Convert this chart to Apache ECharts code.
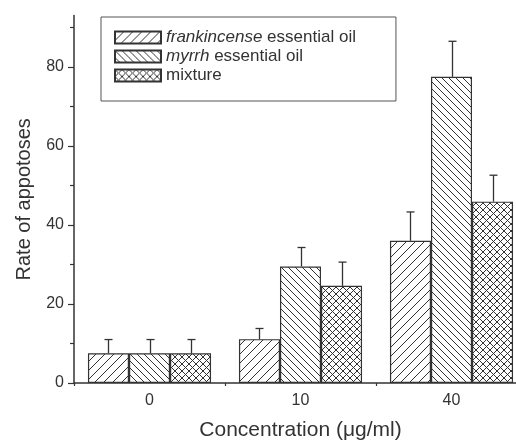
<!DOCTYPE html>
<html>
<head>
<meta charset="utf-8">
<script src="https://cdn.jsdelivr.net/npm/echarts@6/dist/echarts.min.js"></script>
<style>
html,body{margin:0;padding:0;background:#fff;}
#main{width:516px;height:440px;}
</style>
</head>
<body>
<div id="main"></div>
<script>
const categories = ['0', '10', '40'];
const seriesNames = ['frankincense essential oil', 'myrrh essential oil', 'mixture'];
const frankincense = [7.5, 11.1, 36.0];
const frankincenseErr = [3.5, 2.7, 7.3];
const myrrh = [7.5, 29.5, 77.5];
const myrrhErr = [3.5, 4.8, 9.0];
const mixture = [7.5, 24.6, 45.9];
const mixtureErr = [3.5, 6.0, 6.7];
const yMin = 0, yMax = 93, yInterval = 20;
const yMajorTicks = [0, 20, 40, 60, 80];
const yMinorTicks = [10, 30, 50, 70, 90];

const INK = '#333';
const GAP = 0.185;
const FONT = 'Liberation Sans, Arial, sans-serif';

function makePattern(kind, p) {
  const c = document.createElement('canvas');
  c.width = p; c.height = p;
  const g = c.getContext('2d');
  g.fillStyle = '#fff';
  g.fillRect(0, 0, p, p);
  g.strokeStyle = INK;
  g.lineWidth = 1;
  function fwd() {
    g.beginPath();
    g.moveTo(-1, p + 1); g.lineTo(p + 1, -1);
    g.moveTo(-1, 1); g.lineTo(1, -1);
    g.moveTo(p - 1, p + 1); g.lineTo(p + 1, p - 1);
    g.stroke();
  }
  function back() {
    g.beginPath();
    g.moveTo(-1, -1); g.lineTo(p + 1, p + 1);
    g.moveTo(p - 1, -1); g.lineTo(p + 1, 1);
    g.moveTo(-1, p - 1); g.lineTo(1, p + 1);
    g.stroke();
  }
  if (kind === 'fwd') fwd();
  else if (kind === 'back') back();
  else { fwd(); back(); }
  return { image: c, repeat: 'repeat' };
}

const patterns = [makePattern('fwd', 9), makePattern('back', 7), makePattern('cross', 7)];
const values = [frankincense, myrrh, mixture];
const errors = [frankincenseErr, myrrhErr, mixtureErr];

const series = [];
values.forEach((vals, k) => {
  series.push({
    name: seriesNames[k],
    type: 'bar',
    data: vals,
    barGap: '0%',
    barCategoryGap: (GAP * 100) + '%',
    itemStyle: { color: patterns[k], borderColor: INK, borderWidth: 1.2 },
    emphasis: { disabled: true },
    z: 2
  });
});
values.forEach((vals, k) => {
  series.push({
    type: 'custom',
    name: seriesNames[k] + ' err',
    data: vals.map((v, i) => [i, v, errors[k][i]]),
    z: 3,
    silent: true,
    renderItem: function (params, api) {
      const idx = api.value(0), v = api.value(1), e = api.value(2);
      const band = api.size([1, 0])[0];
      const barW = band * (1 - GAP) / 3;
      const base = api.coord([idx, v]);
      const top = api.coord([idx, v + e]);
      const x = Math.round(base[0] + (k - 1) * barW) + 0.5;
      const capHalf = 4;
      return {
        type: 'group',
        children: [
          { type: 'line', shape: { x1: x, y1: base[1], x2: x, y2: top[1] }, style: { stroke: INK, lineWidth: 1.3 } },
          { type: 'line', shape: { x1: x - capHalf, y1: top[1], x2: x + capHalf, y2: top[1] }, style: { stroke: INK, lineWidth: 1.3 } }
        ]
      };
    }
  });
});

const chart = echarts.init(document.getElementById('main'), null, { renderer: 'canvas' });
chart.setOption({
  animation: false,
  backgroundColor: '#fff',
  textStyle: { fontFamily: FONT },
  grid: { left: 74, width: 453, top: 15.6, height: 367.4, outerBoundsMode: 'none', containLabel: false },
  legend: {
    data: seriesNames,
    orient: 'vertical',
    left: 101,
    top: 17,
    icon: 'rect',
    itemWidth: 46,
    itemHeight: 12,
    itemGap: 2,
    padding: [12, 40, 17, 13],
    borderColor: '#555',
    borderWidth: 1,
    selectedMode: false,
    formatter: function (name) {
      const parts = name.split(' ');
      if (parts.length > 1) {
        return '{i|' + parts[0] + '} {n|' + parts.slice(1).join(' ') + '}';
      }
      return '{n|' + name + '}';
    },
    textStyle: {
      color: INK,
      fontSize: 17,
      lineHeight: 17,
      fontFamily: FONT,
      rich: {
        i: { fontStyle: 'italic', fontSize: 17, lineHeight: 17, color: INK, fontFamily: FONT },
        n: { fontSize: 17, lineHeight: 17, color: INK, fontFamily: FONT }
      }
    }
  },
  xAxis: [
    {
      type: 'category',
      data: categories,
      position: 'bottom',
      name: 'Concentration (μg/ml)',
      nameLocation: 'middle',
      nameGap: 37,
      nameTextStyle: { color: INK, fontSize: 21, fontFamily: FONT },
      axisLine: { lineStyle: { color: INK, width: 1.5 } },
      axisTick: { alignWithLabel: true, length: 5, lineStyle: { color: INK, width: 1.2 } },
      axisLabel: { color: INK, fontSize: 16, margin: 10, fontFamily: FONT },
      splitLine: { show: false }
    },
    {
      type: 'category',
      data: categories,
      position: 'bottom',
      axisLine: { show: false },
      axisTick: { show: true, length: 3, lineStyle: { color: INK, width: 1.2 } },
      axisLabel: { show: false },
      splitLine: { show: false }
    }
  ],
  yAxis: [
    {
      type: 'value',
      min: yMin,
      max: yMax,
      interval: yInterval,
      position: 'left',
      name: 'Rate of appotoses',
      nameLocation: 'middle',
      nameGap: 40,
      nameRotate: 90,
      nameTextStyle: { color: INK, fontSize: 20, fontFamily: FONT },
      axisLine: { show: true, lineStyle: { color: INK, width: 1.5 } },
      axisTick: { show: true, length: 6, customValues: yMajorTicks, lineStyle: { color: INK, width: 1.2 } },
      minorTick: { show: false },
      axisLabel: { color: INK, fontSize: 16, margin: 10, customValues: yMajorTicks, fontFamily: FONT },
      splitLine: { show: false }
    },
    {
      type: 'value',
      min: yMin,
      max: yMax,
      interval: 10,
      position: 'left',
      axisLine: { show: false },
      axisTick: { show: true, length: 4, customValues: yMinorTicks, lineStyle: { color: INK, width: 1.2 } },
      axisLabel: { show: false },
      splitLine: { show: false }
    }
  ],
  series: series
});
</script>
</body>
</html>
